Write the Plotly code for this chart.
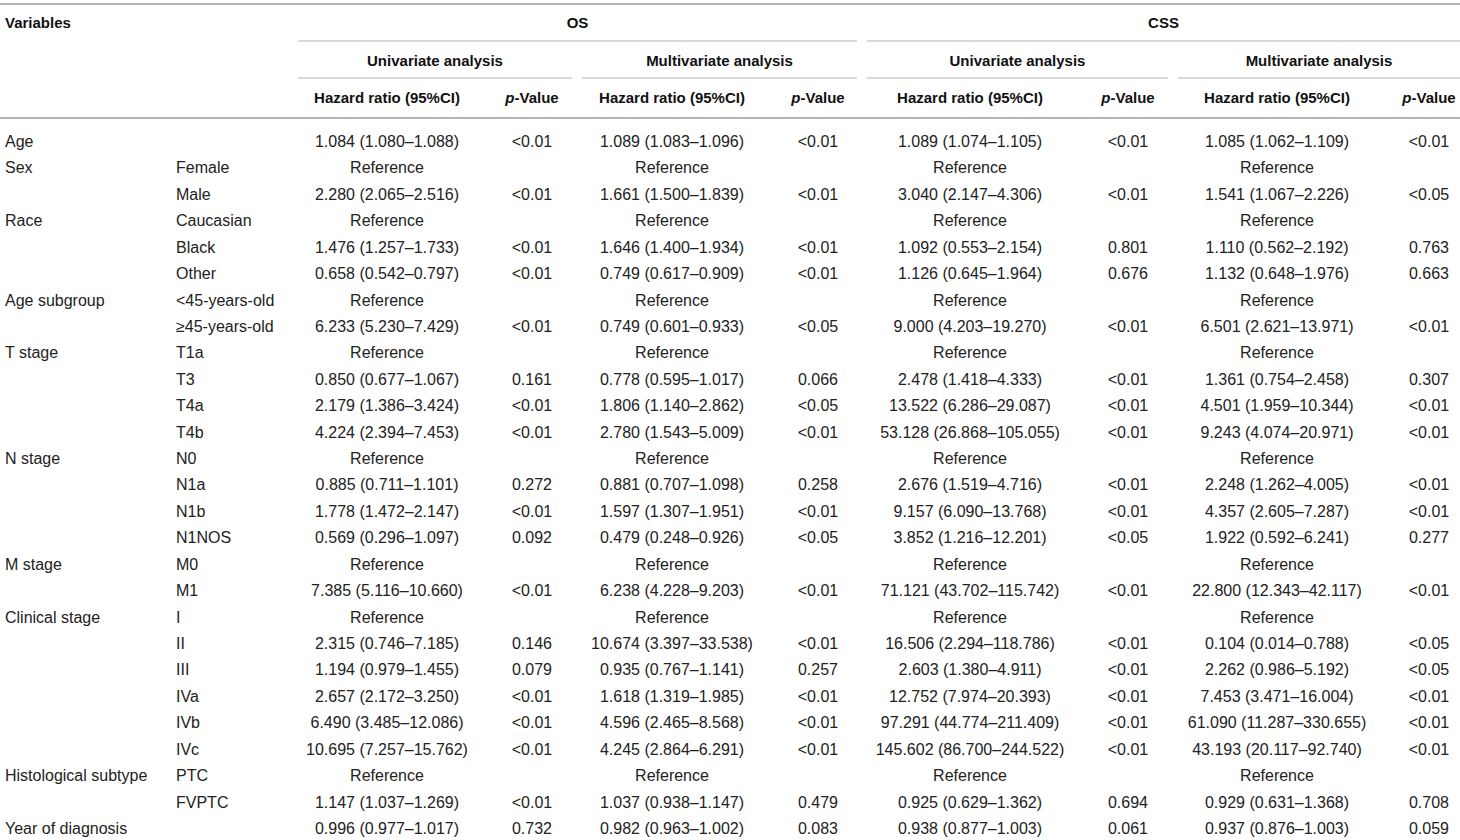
import plotly.graph_objects as go

# table content, one entry per row
variables = ["Age", "Sex", "", "Race", "", "", "Age subgroup", "", "T stage", "", "", "",
             "N stage", "", "", "", "M stage", "", "Clinical stage", "", "", "", "", "",
             "Histological subtype", "", "Year of diagnosis"]
subgroups = ["", "Female", "Male", "Caucasian", "Black", "Other", "&lt;45-years-old", "≥45-years-old",
             "T1a", "T3", "T4a", "T4b", "N0", "N1a", "N1b", "N1NOS", "M0", "M1",
             "I", "II", "III", "IVa", "IVb", "IVc", "PTC", "FVPTC", ""]

REF = "Reference"
os_uni_hr = ["1.084 (1.080–1.088)", REF, "2.280 (2.065–2.516)", REF, "1.476 (1.257–1.733)",
             "0.658 (0.542–0.797)", REF, "6.233 (5.230–7.429)", REF, "0.850 (0.677–1.067)",
             "2.179 (1.386–3.424)", "4.224 (2.394–7.453)", REF, "0.885 (0.711–1.101)",
             "1.778 (1.472–2.147)", "0.569 (0.296–1.097)", REF, "7.385 (5.116–10.660)", REF,
             "2.315 (0.746–7.185)", "1.194 (0.979–1.455)", "2.657 (2.172–3.250)",
             "6.490 (3.485–12.086)", "10.695 (7.257–15.762)", REF, "1.147 (1.037–1.269)",
             "0.996 (0.977–1.017)"]
os_uni_p = ["&lt;0.01", "", "&lt;0.01", "", "&lt;0.01", "&lt;0.01", "", "&lt;0.01", "", "0.161",
            "&lt;0.01", "&lt;0.01", "", "0.272", "&lt;0.01", "0.092", "", "&lt;0.01", "", "0.146",
            "0.079", "&lt;0.01", "&lt;0.01", "&lt;0.01", "", "&lt;0.01", "0.732"]
os_multi_hr = ["1.089 (1.083–1.096)", REF, "1.661 (1.500–1.839)", REF, "1.646 (1.400–1.934)",
               "0.749 (0.617–0.909)", REF, "0.749 (0.601–0.933)", REF, "0.778 (0.595–1.017)",
               "1.806 (1.140–2.862)", "2.780 (1.543–5.009)", REF, "0.881 (0.707–1.098)",
               "1.597 (1.307–1.951)", "0.479 (0.248–0.926)", REF, "6.238 (4.228–9.203)", REF,
               "10.674 (3.397–33.538)", "0.935 (0.767–1.141)", "1.618 (1.319–1.985)",
               "4.596 (2.465–8.568)", "4.245 (2.864–6.291)", REF, "1.037 (0.938–1.147)",
               "0.982 (0.963–1.002)"]
os_multi_p = ["&lt;0.01", "", "&lt;0.01", "", "&lt;0.01", "&lt;0.01", "", "&lt;0.05", "", "0.066",
              "&lt;0.05", "&lt;0.01", "", "0.258", "&lt;0.01", "&lt;0.05", "", "&lt;0.01", "",
              "&lt;0.01", "0.257", "&lt;0.01", "&lt;0.01", "&lt;0.01", "", "0.479", "0.083"]
css_uni_hr = ["1.089 (1.074–1.105)", REF, "3.040 (2.147–4.306)", REF, "1.092 (0.553–2.154)",
              "1.126 (0.645–1.964)", REF, "9.000 (4.203–19.270)", REF, "2.478 (1.418–4.333)",
              "13.522 (6.286–29.087)", "53.128 (26.868–105.055)", REF, "2.676 (1.519–4.716)",
              "9.157 (6.090–13.768)", "3.852 (1.216–12.201)", REF, "71.121 (43.702–115.742)", REF,
              "16.506 (2.294–118.786)", "2.603 (1.380–4.911)", "12.752 (7.974–20.393)",
              "97.291 (44.774–211.409)", "145.602 (86.700–244.522)", REF, "0.925 (0.629–1.362)",
              "0.938 (0.877–1.003)"]
css_uni_p = ["&lt;0.01", "", "&lt;0.01", "", "0.801", "0.676", "", "&lt;0.01", "", "&lt;0.01",
             "&lt;0.01", "&lt;0.01", "", "&lt;0.01", "&lt;0.01", "&lt;0.05", "", "&lt;0.01", "",
             "&lt;0.01", "&lt;0.01", "&lt;0.01", "&lt;0.01", "&lt;0.01", "", "0.694", "0.061"]
css_multi_hr = ["1.085 (1.062–1.109)", REF, "1.541 (1.067–2.226)", REF, "1.110 (0.562–2.192)",
                "1.132 (0.648–1.976)", REF, "6.501 (2.621–13.971)", REF, "1.361 (0.754–2.458)",
                "4.501 (1.959–10.344)", "9.243 (4.074–20.971)", REF, "2.248 (1.262–4.005)",
                "4.357 (2.605–7.287)", "1.922 (0.592–6.241)", REF, "22.800 (12.343–42.117)", REF,
                "0.104 (0.014–0.788)", "2.262 (0.986–5.192)", "7.453 (3.471–16.004)",
                "61.090 (11.287–330.655)", "43.193 (20.117–92.740)", REF, "0.929 (0.631–1.368)",
                "0.937 (0.876–1.003)"]
css_multi_p = ["&lt;0.01", "", "&lt;0.05", "", "0.763", "0.663", "", "&lt;0.01", "", "0.307",
               "&lt;0.01", "&lt;0.01", "", "&lt;0.01", "&lt;0.01", "0.277", "", "&lt;0.01", "",
               "&lt;0.05", "&lt;0.05", "&lt;0.01", "&lt;0.01", "&lt;0.01", "", "0.708", "0.059"]

groups = ["OS", "CSS"]
analyses = ["Univariate analysis", "Multivariate analysis", "Univariate analysis", "Multivariate analysis"]
col_heads = ["Hazard ratio (95%CI)", "<i>p</i>-Value"] * 4

# layout of the table in pixels
W, H = 1460, 840
FONT = "Liberation Sans, Arial, sans-serif"
FS_BODY, FS_HEAD = 16, 15
TXT = "#222222"
RULE = "#b3b3b3"

x_var, x_sub = 5, 176
x_cols = [387, 532, 672, 818, 970, 1128, 1277, 1429]
span_groups = [(298, 857), (867, 1460)]
span_analyses = [(298, 572), (582, 857), (867, 1168), (1178, 1460)]
y_head = [24, 62, 99]
y_first, row_h = 143, 26.42

rows = list(range(len(variables)))
y_rows = [y_first + i * row_h for i in rows]

fig = go.Figure()


def add_text(xs, ys, texts, pos, bold=False):
    fig.add_trace(go.Scatter(
        x=xs, y=ys, text=[f"<b>{t}</b>" if bold and t else t for t in texts],
        mode="text", textposition=pos, hoverinfo="skip", showlegend=False, cliponaxis=False,
        textfont=dict(family=FONT, size=FS_HEAD if bold else FS_BODY,
                      color="#111111" if bold else TXT)
    ))


# header
add_text([x_var], [y_head[0]], ["Variables"], "middle right", bold=True)
add_text([(a + b) / 2 for a, b in span_groups], [y_head[0]] * 2, groups, "middle center", bold=True)
add_text([(a + b) / 2 for a, b in span_analyses], [y_head[1]] * 4, analyses, "middle center", bold=True)
add_text(x_cols, [y_head[2]] * 8, col_heads, "middle center", bold=True)

# body
add_text([x_var] * len(rows), y_rows, variables, "middle right")
add_text([x_sub] * len(rows), y_rows, subgroups, "middle right")
body = [os_uni_hr, os_uni_p, os_multi_hr, os_multi_p, css_uni_hr, css_uni_p, css_multi_hr, css_multi_p]
for xc, col in zip(x_cols, body):
    add_text([xc] * len(rows), y_rows, col, "middle center")

# rules
shapes = [dict(type="line", x0=0, x1=W, y0=4, y1=4, line=dict(color=RULE, width=2)),
          dict(type="line", x0=0, x1=W, y0=118, y1=118, line=dict(color=RULE, width=2))]
for a, b in span_groups:
    shapes.append(dict(type="line", x0=a, x1=b, y0=41, y1=41, line=dict(color=RULE, width=1.2)))
for a, b in span_analyses:
    shapes.append(dict(type="line", x0=a, x1=b, y0=78, y1=78, line=dict(color=RULE, width=1.2)))
for s in shapes:
    s.update(xref="x", yref="y", layer="below")

fig.update_layout(
    width=W, height=H,
    margin=dict(l=0, r=0, t=0, b=0),
    paper_bgcolor="white", plot_bgcolor="white",
    xaxis=dict(range=[0, W], visible=False, fixedrange=True),
    yaxis=dict(range=[H, 0], visible=False, fixedrange=True),
    shapes=shapes,
)

# drop the default page margin so the table sits flush in the window
fig.write_html("out.html", config={"displayModeBar": False},
               post_script="document.body.style.margin = '0px';")
